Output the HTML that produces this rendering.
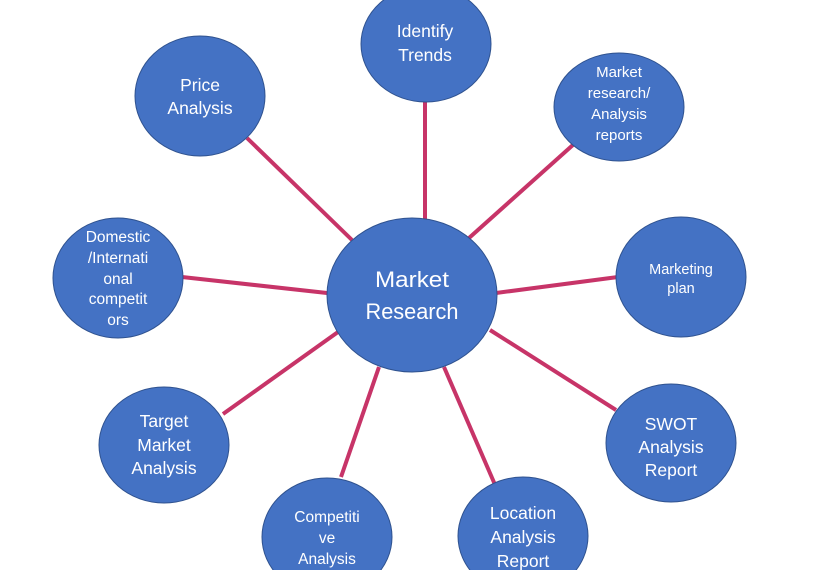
<!DOCTYPE html>
<html>
<head>
<meta charset="utf-8">
<style>
  html, body { margin: 0; padding: 0; background: #ffffff; }
  body { width: 837px; height: 570px; overflow: hidden; }
  svg { display: block; }
  text { font-family: "Liberation Sans", Arial, sans-serif; fill: #ffffff; text-anchor: middle; }
</style>
</head>
<body>
<svg width="837" height="570" viewBox="0 0 837 570" xmlns="http://www.w3.org/2000/svg">
  <!-- connectors -->
  <g stroke="#C73468" stroke-width="4" stroke-linecap="butt" fill="none">
    <line x1="247" y1="138" x2="352" y2="240"/>
    <line x1="425" y1="100" x2="425" y2="220"/>
    <line x1="574" y1="144" x2="469" y2="238"/>
    <line x1="618" y1="277" x2="496" y2="293"/>
    <line x1="490" y1="330" x2="616" y2="410"/>
    <line x1="444" y1="367" x2="496" y2="487"/>
    <line x1="379" y1="367" x2="341" y2="477"/>
    <line x1="223" y1="414" x2="338" y2="332"/>
    <line x1="182" y1="277" x2="327" y2="293"/>
  </g>

  <!-- nodes -->
  <g fill="#4472C4" stroke="#2F528F" stroke-width="1">
    <ellipse cx="426" cy="44" rx="65" ry="58"/>
    <ellipse cx="200" cy="96" rx="65" ry="60"/>
    <ellipse cx="619" cy="107" rx="65" ry="54"/>
    <ellipse cx="118" cy="278" rx="65" ry="60"/>
    <ellipse cx="681" cy="277" rx="65" ry="60"/>
    <ellipse cx="671" cy="443" rx="65" ry="59"/>
    <ellipse cx="164" cy="445" rx="65" ry="58"/>
    <ellipse cx="327" cy="537" rx="65" ry="59"/>
    <ellipse cx="523" cy="536" rx="65" ry="59"/>
    <ellipse cx="412" cy="295" rx="85" ry="77"/>
  </g>

  <!-- labels -->
  <g font-size="22.5">
    <text x="412" y="287" textLength="74" lengthAdjust="spacingAndGlyphs">Market</text>
    <text x="412" y="319" textLength="93" lengthAdjust="spacingAndGlyphs">Research</text>
  </g>

  <g font-size="17.5">
    <text x="425" y="37">Identify</text>
    <text x="425" y="61">Trends</text>

    <text x="200" y="91">Price</text>
    <text x="200" y="114">Analysis</text>

    <text x="671" y="430">SWOT</text>
    <text x="671" y="453">Analysis</text>
    <text x="671" y="476">Report</text>

    <text x="164" y="427">Target</text>
    <text x="164" y="451">Market</text>
    <text x="164" y="474">Analysis</text>

    <text x="523" y="519">Location</text>
    <text x="523" y="543">Analysis</text>
    <text x="523" y="567">Report</text>
  </g>

  <g font-size="15">
    <text x="619" y="77">Market</text>
    <text x="619" y="98">research/</text>
    <text x="619" y="119">Analysis</text>
    <text x="619" y="140">reports</text>
  </g>

  <g font-size="15.5">
    <text x="118" y="242">Domestic</text>
    <text x="118" y="263">/Internati</text>
    <text x="118" y="284">onal</text>
    <text x="118" y="304">competit</text>
    <text x="118" y="325">ors</text>

    <text x="327" y="522">Competiti</text>
    <text x="327" y="543">ve</text>
    <text x="327" y="564">Analysis</text>
  </g>

  <g font-size="14.5">
    <text x="681" y="274">Marketing</text>
    <text x="681" y="293">plan</text>
  </g>
</svg>
</body>
</html>
